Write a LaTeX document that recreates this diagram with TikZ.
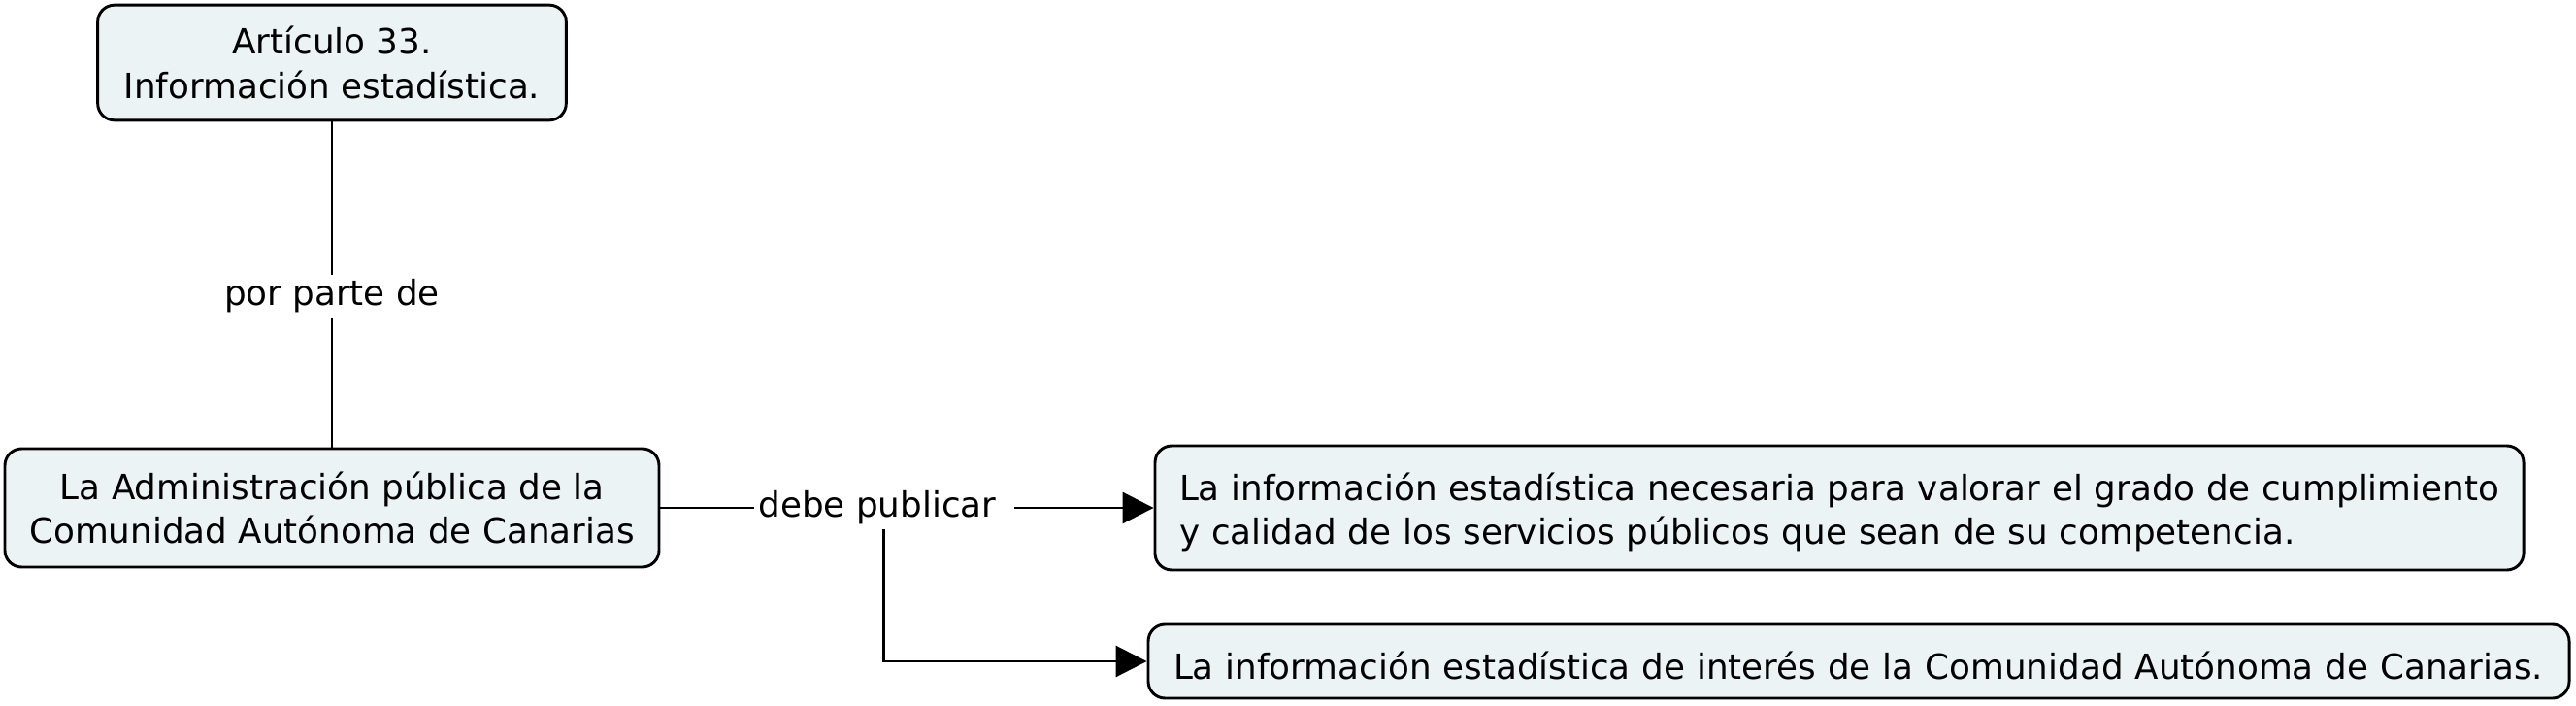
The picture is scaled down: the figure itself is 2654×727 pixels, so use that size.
\documentclass[tikz,border=0pt]{standalone}
\usepackage{fontspec}
\setmainfont{DejaVu Sans}
\usetikzlibrary{arrows.meta}
\definecolor{boxfill}{RGB}{235,243,245}
\newcommand{\lowstrut}{\rule{0pt}{28pt}}
\begin{document}
\begin{tikzpicture}[x=0.75pt,y=-0.75pt,
  txt/.style={font=\fontsize{26.8}{34.2}\selectfont},
  concept/.style={txt, draw=black, line width=2.2pt, fill=boxfill, rounded corners=13pt, inner sep=0pt},
  linklbl/.style={txt, inner xsep=3pt, inner ysep=3pt},
  conn/.style={line width=2.2pt},
  arr/.style={conn, -{Triangle[length=24pt,width=24pt]}}]
\useasboundingbox (0,0) rectangle (2654,727);
\node[concept, minimum width=362pt, minimum height=89pt, align=center] (top) at (342,64.5)
  {Artículo 33.\\Información estadística.};
\node[concept, minimum width=505.5pt, minimum height=91.5pt, align=center] (adm) at (342,523)
  {La Administración pública de la\\Comunidad Autónoma de Canarias};
\node[concept, minimum width=1057.5pt, minimum height=96pt, text width=1020pt, align=left] (nec) at (1895,523)
  {\lowstrut\mbox{La información estadística necesaria para valorar el grado de cumplimiento}\\\mbox{y calidad de los servicios públicos que sean de su competencia.}};
\node[concept, minimum width=1098pt, minimum height=57pt, text width=1059pt, align=left] (int) at (1915,681)
  {\lowstrut\mbox{La información estadística de interés de la Comunidad Autónoma de Canarias.}};
\node[linklbl] (ppd) at (342,305) {por parte de};
\node[linklbl] (dp) at (904,523) {debe publicar};
\draw[conn] (top) -- (ppd) -- (adm);
\draw[conn] (adm.east) -- (dp.west);
\draw[arr] ([xshift=11pt]dp.east) -- (nec.west);
\draw[arr] ([xshift=5pt]dp.south) |- (int.west);
\end{tikzpicture}
\end{document}
